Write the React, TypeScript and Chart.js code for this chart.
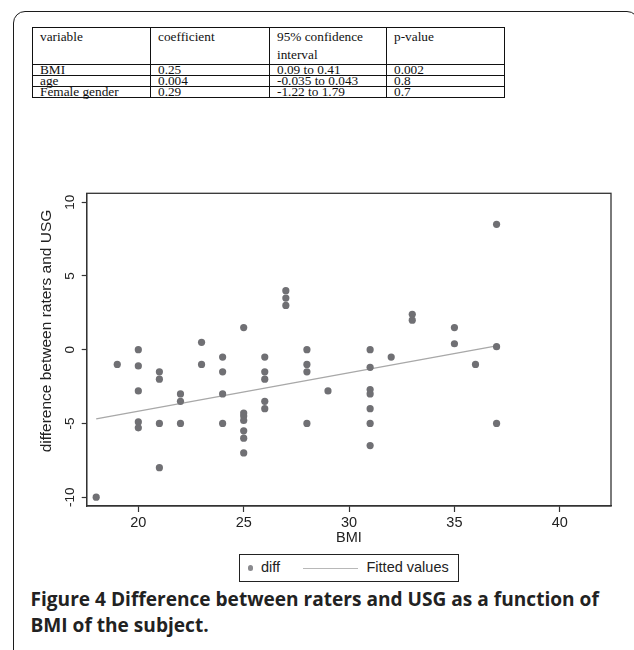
import React, { useEffect, useRef } from "react";
import { Chart, registerables } from "chart.js";

Chart.register(...registerables);

// ---- table content ----
const tableHeader = ["variable", "coefficient", "95% confidence|interval", "p-value"];
const tableVariables = ["BMI", "age", "Female gender"];
const tableCoefficients = ["0.25", "0.004", "0.29"];
const tableIntervals = ["0.09 to 0.41", "-0.035 to 0.043", "-1.22 to 1.79"];
const tablePValues = ["0.002", "0.8", "0.7"];

// ---- scatter data (BMI vs difference) ----
const bmi = [
  18,
  19,
  20, 20, 20, 20, 20,
  21, 21, 21, 21,
  22, 22, 22,
  23, 23,
  24, 24, 24, 24,
  25, 25, 25, 25, 25, 25, 25,
  26, 26, 26, 26, 26,
  27, 27, 27,
  28, 28, 28, 28,
  29,
  31, 31, 31, 31, 31, 31, 31,
  32,
  33, 33,
  35, 35,
  36,
  37, 37, 37,
];
const diff = [
  -10,
  -1,
  0, -1.1, -2.8, -4.9, -5.3,
  -1.5, -2, -5, -8,
  -3, -3.5, -5,
  0.5, -1,
  -0.5, -1.5, -3, -5,
  1.5, -4.3, -4.5, -4.8, -5.5, -6, -7,
  -0.5, -1.5, -2, -3.5, -4,
  4, 3.5, 3,
  0, -1, -1.5, -5,
  -2.8,
  0, -1.2, -2.7, -3, -4, -5, -6.5,
  -0.5,
  2.4, 2.0,
  1.5, 0.4,
  -1,
  8.5, 0.2, -5,
];

// ---- fitted line ----
const fitBmi = [18, 37];
const fitValues = [-4.7, 0.25];

// ---- axes ----
const xTicks = [20, 25, 30, 35, 40];
const yTicks = [-10, -5, 0, 5, 10];
const xTitle = "BMI";
const yTitle = "difference between raters and USG";
const seriesNames = ["diff", "Fitted values"];

const captionBold = "Figure 4";
const captionText = " Difference between raters and USG as a function of BMI of the subject.";

const framePlugin = {
  id: "frameBox",
  beforeDatasetsDraw(chart: any) {
    const { ctx, chartArea: a } = chart;
    ctx.save();
    ctx.strokeStyle = "#333";
    ctx.lineWidth = 1.3;
    ctx.strokeRect(a.left, a.top, a.right - a.left, a.bottom - a.top);
    ctx.restore();
  },
};

const yTitlePlugin = {
  id: "yTitle",
  afterDraw(chart: any) {
    const { ctx, chartArea } = chart;
    ctx.save();
    ctx.translate(26.7, chartArea.top + 137.7);
    ctx.rotate(-Math.PI / 2);
    ctx.font = "15.5px 'Liberation Sans', Arial, sans-serif";
    ctx.fillStyle = "#222";
    ctx.textAlign = "center";
    ctx.textBaseline = "middle";
    ctx.fillText(yTitle, 0, 0);
    ctx.restore();
  },
};

function ScatterChart() {
  const ref = useRef<HTMLCanvasElement | null>(null);
  useEffect(() => {
    if (!ref.current) return;
    const font = { family: "'Liberation Sans', Arial, sans-serif", size: 14.5 };
    const chart = new Chart(ref.current, {
      type: "scatter",
      data: {
        datasets: [
          {
            label: seriesNames[0],
            data: bmi.map((x, i) => ({ x, y: diff[i] })),
            backgroundColor: "#707074",
            borderColor: "#707074",
            borderWidth: 0,
            pointRadius: 3.6,
            pointHoverRadius: 3.6,
          },
          {
            label: seriesNames[1],
            data: fitBmi.map((x, i) => ({ x, y: fitValues[i] })),
            showLine: true,
            borderColor: "#a8a8a8",
            backgroundColor: "#a8a8a8",
            borderWidth: 1.3,
            pointRadius: 0,
            pointHoverRadius: 0,
          },
        ],
      },
      options: {
        responsive: false,
        animation: false,
        layout: { padding: { left: 0, right: 19, top: 13.3, bottom: 0 } },
        plugins: { legend: { display: false }, tooltip: { enabled: false } },
        scales: {
          x: {
            type: "linear",
            min: 17.55,
            max: 42.43,
            afterFit: (s: any) => {
              s.height = 44;
            },
            afterBuildTicks: (s: any) => {
              s.ticks = xTicks.map((v) => ({ value: v }));
            },
            grid: {
              drawOnChartArea: false,
              drawTicks: true,
              tickLength: 6,
              tickColor: "#333",
              tickWidth: 1.2,
            },
            border: { display: true, color: "#333", width: 1.3 },
            ticks: {
              padding: 2.6,
              color: "#222",
              font,
              maxRotation: 0,
              minRotation: 0,
              autoSkip: false,
            },
            title: {
              display: true,
              text: xTitle,
              color: "#222",
              font,
              padding: { top: 0, bottom: 3 },
            },
          },
          y: {
            type: "linear",
            min: -10.6,
            max: 10.6,
            afterFit: (s: any) => {
              s.width = 66.7;
            },
            afterBuildTicks: (s: any) => {
              s.ticks = yTicks.map((v) => ({ value: v }));
            },
            grid: {
              drawOnChartArea: false,
              drawTicks: true,
              tickLength: 5,
              tickColor: "#333",
              tickWidth: 1.2,
            },
            border: { display: true, color: "#333", width: 1.3 },
            ticks: {
              padding: 1.5,
              color: "#222",
              font: { family: "'Liberation Sans', Arial, sans-serif", size: 13.5 },
              minRotation: 90,
              maxRotation: 90,
              crossAlign: "center",
              autoSkip: false,
            },
            title: { display: false },
          },
        },
      },
      plugins: [framePlugin, yTitlePlugin],
    } as any);
    return () => chart.destroy();
  }, []);
  return (
    <canvas
      ref={ref}
      width={610}
      height={370}
      style={{ position: "absolute", left: 20, top: 180, width: 610, height: 370 }}
    />
  );
}

export default function App() {
  const cellFont = "'Liberation Serif', 'Times New Roman', serif";
  const td = (extra: React.CSSProperties = {}): React.CSSProperties => ({
    border: "1px solid #111",
    padding: "0 0 0 7px",
    fontFamily: cellFont,
    fontSize: 13.3,
    color: "#111",
    lineHeight: "10px",
    height: 10,
    verticalAlign: "bottom",
    whiteSpace: "nowrap",
    overflow: "visible",
    ...extra,
  });
  const headTd: React.CSSProperties = {
    ...td(),
    lineHeight: "18px",
    height: 36,
    verticalAlign: "top",
    whiteSpace: "normal",
  };
  const rows = tableVariables.map((v, i) => [v, tableCoefficients[i], tableIntervals[i], tablePValues[i]]);
  return (
    <div
      style={{
        position: "absolute",
        left: 0,
        top: 0,
        width: 634,
        height: 650,
        overflow: "hidden",
        background: "#fff",
      }}
    >
      <div
        style={{
          position: "absolute",
          left: 12.5,
          top: 10.5,
          width: 624,
          height: 700,
          border: "1.5px solid #1c1c1c",
          borderRadius: 12,
        }}
      />
      <table
        style={{
          position: "absolute",
          left: 32,
          top: 27,
          width: 473,
          borderCollapse: "collapse",
          tableLayout: "fixed",
        }}
      >
        <colgroup>
          <col style={{ width: 118 }} />
          <col style={{ width: 119 }} />
          <col style={{ width: 117 }} />
          <col style={{ width: 118 }} />
        </colgroup>
        <tbody>
          <tr style={{ height: 36 }}>
            {tableHeader.map((h, i) => (
              <td key={i} style={headTd}>
                {h.split("|").map((part, j) => (
                  <React.Fragment key={j}>
                    {j > 0 && <br />}
                    {part}
                  </React.Fragment>
                ))}
              </td>
            ))}
          </tr>
          {rows.map((r, i) => (
            <tr key={i} style={{ height: 10 }}>
              {r.map((c, j) => (
                <td key={j} style={td()}>
                  {c}
                </td>
              ))}
            </tr>
          ))}
        </tbody>
      </table>

      <ScatterChart />

      <div
        style={{
          position: "absolute",
          left: 239,
          top: 554,
          width: 218,
          height: 26,
          border: "1px solid #222",
          fontFamily: "'Liberation Sans', Arial, sans-serif",
          fontSize: 14.5,
          color: "#222",
        }}
      >
        <span
          style={{
            position: "absolute",
            left: 7.5,
            top: 10.3,
            width: 5.6,
            height: 5.6,
            borderRadius: "50%",
            background: "#8a8a8e",
          }}
        />
        <span style={{ position: "absolute", left: 21, top: 4, lineHeight: "17px" }}>{seriesNames[0]}</span>
        <span
          style={{
            position: "absolute",
            left: 62.7,
            top: 12.5,
            width: 55,
            height: 0,
            borderTop: "1.3px solid #b8b8b8",
          }}
        />
        <span style={{ position: "absolute", left: 126.5, top: 4, lineHeight: "17px" }}>{seriesNames[1]}</span>
      </div>

      <div
        style={{
          position: "absolute",
          left: 30.5,
          top: 586,
          width: 595,
          fontFamily: "'Open Sans', 'Noto Sans', sans-serif",
          fontWeight: 700,
          fontSize: 19.1,
          lineHeight: "26px",
          color: "#222",
        }}
      >
        <span>{captionBold}</span>
        {captionText}
      </div>
    </div>
  );
}
